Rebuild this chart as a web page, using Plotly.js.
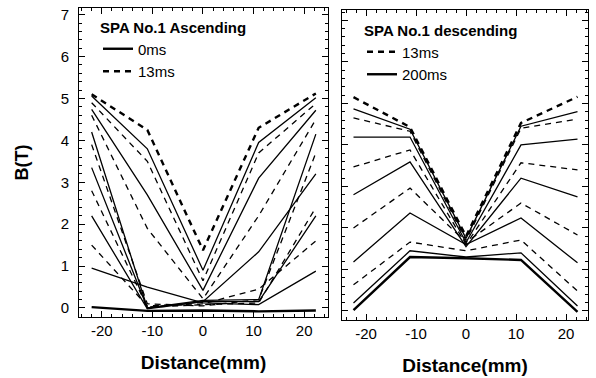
<!DOCTYPE html>
<html>
<head>
<meta charset="utf-8">
<script src="https://cdn.plot.ly/plotly-3.0.1.min.js"></script>
<style>html,body{margin:0;padding:0;background:#fff;}#chart{width:596px;height:378px;}</style>
</head>
<body>
<div id="chart"></div>
<script>
// Sensor positions (mm)
const posAsc = [-22, -11, 0, 11, 22.3];
const posDesc = [-22.5, -11.2, 0, 11, 22.3];

// SPA No.1 Ascending: B(T) profiles, from 0 ms (bottom) to 13 ms (top)
const asc00 = [0.02, -0.07, -0.06, -0.08, -0.06];
const asc01 = [0.95, 0.50, 0.12, 0.08, 0.88];
const asc02 = [1.50, 0.05, 0.10, 0.45, 1.60];
const asc03 = [2.20, -0.02, 0.15, 0.15, 2.20];
const asc04 = [2.80, 0.02, 0.08, 0.12, 2.40];
const asc05 = [3.35, 0.00, 0.15, 1.34, 3.20];
const asc06 = [3.90, 0.10, 0.05, 0.20, 3.70];
const asc07 = [4.20, 0.00, 0.18, 0.20, 4.15];
const asc08 = [4.60, 1.90, 0.22, 2.20, 4.50];
const asc09 = [4.74, 2.70, 0.42, 3.10, 4.72];
const asc10 = [4.90, 3.50, 0.65, 3.70, 4.88];
const asc11 = [5.06, 3.80, 0.90, 3.95, 5.02];
const asc13 = [5.10, 4.25, 1.38, 4.30, 5.12];
const ascCurves = [asc00, asc01, asc02, asc03, asc04, asc05, asc06, asc07, asc08, asc09, asc10, asc11, asc13];
const ascDash   = [false, false, true, false, true, false, true, false, true, false, true, false, true];
const ascThick  = [true, false, false, false, false, false, false, false, false, false, false, false, true];
const ascNames  = ['0ms', '', '', '', '', '', '', '', '', '', '', '', '13ms'];

// SPA No.1 descending: from 13 ms (top) to 200 ms (bottom)
const desc01 = [5.15, 4.43, 1.80, 4.53, 5.16];
const desc02 = [4.87, 4.38, 1.75, 4.45, 4.80];
const desc03 = [4.65, 4.33, 1.70, 4.40, 4.62];
const desc04 = [4.19, 4.19, 1.65, 4.00, 4.14];
const desc05 = [3.47, 3.88, 1.60, 3.57, 3.40];
const desc06 = [2.80, 3.59, 1.55, 3.20, 2.75];
const desc07 = [2.00, 2.96, 1.65, 2.60, 1.83];
const desc08 = [1.18, 2.36, 1.60, 2.24, 1.16];
const desc09 = [0.63, 1.66, 1.45, 1.71, 0.48];
const desc10 = [0.19, 1.45, 1.30, 1.40, 0.12];
const desc11 = [0.02, 1.30, 1.27, 1.23, -0.02];
const descCurves = [desc01, desc02, desc03, desc04, desc05, desc06, desc07, desc08, desc09, desc10, desc11];
const descDash   = [true, false, true, false, true, false, true, false, true, false, false];
const descThick  = [true, false, false, false, false, false, false, false, false, false, true];
const descNames  = ['13ms', '', '', '', '', '', '', '', '', '', '200ms'];

const xTicks = [-20, -10, 0, 10, 20];
const xTickText = ['-20', '-10', '0', '10', '20'];
const yTicks = [0, 1, 2, 3, 4, 5, 6, 7];

const FONT = 'Liberation Sans, Arial, sans-serif';
const traces = [];
ascCurves.forEach((ys, i) => {
  traces.push({
    x: posAsc, y: ys, type: 'scatter', mode: 'lines',
    xaxis: 'x', yaxis: 'y',
    line: {color: '#000', width: ascThick[i] ? 2.4 : 1.3, dash: ascDash[i] ? '6px,5px' : 'solid'},
    name: ascNames[i], showlegend: ascNames[i] !== '', legend: 'legend', hoverinfo: 'skip'
  });
});
descCurves.forEach((ys, i) => {
  traces.push({
    x: posDesc, y: ys, type: 'scatter', mode: 'lines',
    xaxis: 'x2', yaxis: 'y2',
    line: {color: '#000', width: descThick[i] ? 2.4 : 1.3, dash: descDash[i] ? '6px,5px' : 'solid'},
    name: descNames[i], showlegend: descNames[i] !== '', legend: 'legend2', hoverinfo: 'skip'
  });
});

const axBase = {
  showgrid: false, zeroline: false, showline: true, linecolor: '#000', linewidth: 1,
  mirror: 'allticks', ticks: 'inside', ticklen: 6, tickcolor: '#000', tickwidth: 1,
  tickfont: {family: FONT, size: 15, color: '#000'}
};
const minorX = {ticks: 'inside', ticklen: 3, dtick: 2, tickcolor: '#000', tickwidth: 1, showgrid: false};
const minorY = {ticks: 'inside', ticklen: 3, dtick: 0.2, tickcolor: '#000', tickwidth: 1, showgrid: false};
const xTitleFont = {family: FONT, size: 19, color: '#000'};

const layout = {
  width: 596, height: 378,
  margin: {l: 0, r: 0, t: 0, b: 0},
  paper_bgcolor: '#fff', plot_bgcolor: '#fff',
  showlegend: true,
  font: {family: FONT, color: '#000'},
  xaxis: Object.assign({}, axBase, {
    domain: [79/596, 328/596], range: [-24.5, 24.7], tickvals: xTicks, ticktext: xTickText, anchor: 'y',
    minor: minorX, ticklabelstandoff: 0,
    title: {text: '<b>Distance(mm)</b>', font: xTitleFont, standoff: 17}
  }),
  yaxis: Object.assign({}, axBase, {
    domain: [(378-317)/378, (378-8)/378], range: [-0.215, 7.16], tickvals: yTicks, anchor: 'x',
    minor: minorY, ticklabelstandoff: 6,
    title: {text: '<b>B(T)</b>', font: {family: FONT, size: 18, color: '#000'}, standoff: 27}
  }),
  xaxis2: Object.assign({}, axBase, {
    domain: [342/596, 588/596], range: [-24.8, 24.4], tickvals: xTicks, ticktext: xTickText, anchor: 'y2',
    minor: minorX, ticklabelstandoff: 0,
    title: {text: '<b>Distance(mm)</b>', font: xTitleFont, standoff: 17}
  }),
  yaxis2: Object.assign({}, axBase, {
    domain: [(378-320)/378, (378-10)/378], range: [-0.217, 7.25], tickvals: yTicks, anchor: 'x2',
    minor: minorY, showticklabels: false
  }),
  legend: {
    x: 98/596, y: (378-13)/378, xanchor: 'left', yanchor: 'top',
    bgcolor: 'rgba(0,0,0,0)', borderwidth: 0, tracegroupgap: 0,
    font: {family: FONT, size: 15, color: '#000'},
    title: {text: '<b>SPA No.1 Ascending</b>', side: 'top', font: {family: FONT, size: 15, color: '#000'}}
  },
  legend2: {
    x: 362/596, y: (378-16)/378, xanchor: 'left', yanchor: 'top',
    bgcolor: 'rgba(0,0,0,0)', borderwidth: 0, tracegroupgap: 0,
    font: {family: FONT, size: 15, color: '#000'},
    title: {text: '<b>SPA No.1 descending</b>', side: 'top', font: {family: FONT, size: 15, color: '#000'}}
  }
};

Plotly.newPlot('chart', traces, layout, {staticPlot: true, displayModeBar: false});
</script>
</body>
</html>
